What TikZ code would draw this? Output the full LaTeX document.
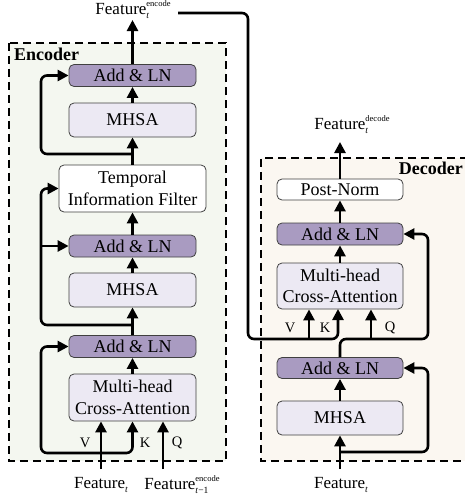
\documentclass[tikz,border=0pt]{standalone}
\usepackage{fontspec}
\setmainfont{Liberation Serif}
\usetikzlibrary{arrows.meta}
\definecolor{addc}{HTML}{A99BC1}
\definecolor{mhc}{HTML}{ECE9F3}
\definecolor{encbg}{HTML}{F4F7F0}
\definecolor{decbg}{HTML}{FBF7F1}
\definecolor{bord}{HTML}{404040}
\newcommand{\supf}{\fontsize{8.5}{9}\selectfont}
\newcommand{\subf}{\fontsize{9.5}{10}\selectfont\itshape}
\newbox\myssa
\newbox\myssb
\newdimen\mysswd
\newcommand{\mysupsub}[2]{\setbox\myssa\hbox{\supf #1}\setbox\myssb\hbox{\subf #2}%
  \ifdim\wd\myssa>\wd\myssb\relax \mysswd=\wd\myssa\relax \else \mysswd=\wd\myssb\relax \fi
  \hbox to \mysswd{\rlap{\raise 7.5pt\copy\myssa}\rlap{\lower 4.5pt\copy\myssb}\hss}}
\newcommand{\mysub}[1]{\lower 4pt\hbox{\subf #1}}
\begin{document}
\begin{tikzpicture}[x=1pt,y=-1pt,
  box/.style={draw=bord, line width=0.8pt, rounded corners=5pt, inner sep=0pt, align=center, font=\fontsize{18}{21.5}\selectfont},
  addbox/.style={box, fill=addc, minimum width=127pt, minimum height=22pt},
  mhbox/.style={box, fill=mhc, minimum width=127pt, minimum height=34pt},
  whbox/.style={box, fill=white},
  arr/.style={line width=2.6pt, -{Triangle[width=11pt,length=11pt]}},
  lab/.style={font=\fontsize{14.5}{16}\selectfont, inner sep=0pt},
  flab/.style={font=\fontsize{17}{19}\selectfont, inner sep=0pt},
  frame/.style={line width=1.8pt, dash pattern=on 8pt off 5pt},
  title/.style={font=\fontsize{18}{20}\selectfont\bfseries, inner sep=0pt}
  ]
\useasboundingbox (0,0) rectangle (465,498);
% backgrounds
\fill[encbg] (9,43) rectangle (226,461);
\draw[frame] (9,43) rectangle (226,461);
\fill[decbg] (261,158) rectangle (465,461);
\draw[frame] (468,158) -- (261,158) -- (261,461) -- (468,461);
\node[title, anchor=north west] (enct) at (14,48) {Encoder};
\node[title, anchor=north east] (dect) at (463,162) {Decoder};

% encoder nodes
\node[addbox] (ea3) at (132.5,75.5) {Add \& LN};
\node[mhbox] (em2) at (132.5,120) {MHSA};
\node[whbox, minimum width=147pt, minimum height=47pt] (etif) at (132.5,188.5) {Temporal\\Information Filter};
\node[addbox] (ea2) at (132.5,246) {Add \& LN};
\node[mhbox] (em1) at (132.5,290) {MHSA};
\node[addbox] (ea1) at (132.5,346.5) {Add \& LN};
\node[mhbox, minimum height=47pt] (eca) at (132.5,397.5) {Multi-head\\Cross-Attention};

% decoder nodes
\node[whbox, minimum width=126pt, minimum height=21pt] (dpn) at (340,189.5) {Post-Norm};
\node[addbox, minimum width=126pt] (da2) at (340,234) {Add \& LN};
\node[mhbox, minimum width=126pt, minimum height=46pt] (dca) at (340,286) {Multi-head\\Cross-Attention};
\node[addbox, minimum width=126pt, minimum height=21pt] (da1) at (340,368) {Add \& LN};
\node[mhbox, minimum width=126pt] (dm) at (340,418) {MHSA};

% outer labels
\node[flab] (encout) at (133,10) {Feature\mysupsub{encode}{t}};
\node[flab] (fet) at (101,485) {Feature\mysub{t}};
\node[flab] (fep) at (182,485) {Feature\mysupsub{encode}{t\/\upshape −1}};
\node[flab] (decout) at (352,125) {Feature\mysupsub{decode}{t}};
\node[flab] (fdt) at (341,485) {Feature\mysub{t}};

% V K Q labels
\node[lab] (eV) at (85,443) {V};
\node[lab] (eK) at (145,443) {K};
\node[lab] (eQ) at (177,443) {Q};
\node[lab] (dV) at (290,328) {V};
\node[lab] (dK) at (325,328) {K};
\node[lab] (dQ) at (390,328) {Q};

% coordinates
\coordinate (eL) at (41,0);
\coordinate (eVin) at (101,469);
\coordinate (eQin) at (163,469);
\coordinate (eJ1) at (101,453);
\coordinate (eKc) at (132.5,453);
\coordinate (eJ2) at (132.5,325);
\coordinate (eJ3) at (132.5,154);
\coordinate (eOut) at (132.5,20);
\coordinate (lS) at (178,13);
\coordinate (lC1) at (248,13);
\coordinate (lC2) at (248,339);
\coordinate (dKc) at (338,339);
\coordinate (dKe) at (338,309);
\coordinate (dVs) at (309,339);
\coordinate (dQs) at (371,339);
\coordinate (dR) at (428,0);
\coordinate (dJm) at (340,339);
\coordinate (dIn) at (340,469);
\coordinate (dJ1) at (340,452);
\coordinate (dOut) at (340,142);

% encoder connectors
\draw[arr] (eVin) -- (eVin |- eca.south);
\draw[arr] (eQin) -- (eQin |- eca.south);
\draw[arr, rounded corners=6pt] (eJ1) -- (eJ1 -| eL) -- (eL |- ea1.west) -- (ea1.west);
\draw[arr, rounded corners=6pt] (eJ1) -- (eKc) -- (eca.south);
\draw[arr] (eca.north) -- (ea1.south);
\draw[arr] (ea1.north) -- (em1.south);
\draw[arr, rounded corners=6pt] (eJ2) -- (eJ2 -| eL) -- (eL |- etif.west) -- (etif.west);
\draw[arr] (eL |- ea2.west) -- (ea2.west);
\draw[arr] (em1.north) -- (ea2.south);
\draw[arr] (ea2.north) -- (etif.south);
\draw[arr] (etif.north) -- (em2.south);
\draw[arr, rounded corners=6pt] (eJ3) -- (eJ3 -| eL) -- (eL |- ea3.west) -- (ea3.west);
\draw[arr] (em2.north) -- (ea3.south);
\draw[arr] (ea3.north) -- (eOut);

% encoder output to decoder
\draw[arr, rounded corners=6pt] (lS) -- (lC1) -- (lC2) -- (dKc) -- (dKe);
\draw[arr] (dVs) -- (dVs |- dca.south);

% decoder connectors
\draw[arr] (dIn) -- (dm.south);
\draw[arr, rounded corners=6pt] (dJ1) -- (dJ1 -| dR) -- (dR |- da1.east) -- (da1.east);
\draw[arr] (dm.north) -- (da1.south);
\draw[arr, rounded corners=6pt] (da1.north) -- (dJm) -- (dJm -| dR) -- (dR |- da2.east) -- (da2.east);
\draw[arr] (dQs) -- (dQs |- dca.south);
\draw[arr] (dca.north) -- (da2.south);
\draw[arr] (da2.north) -- (dpn.south);
\draw[arr] (dpn.north) -- (dOut);
\end{tikzpicture}
\end{document}
